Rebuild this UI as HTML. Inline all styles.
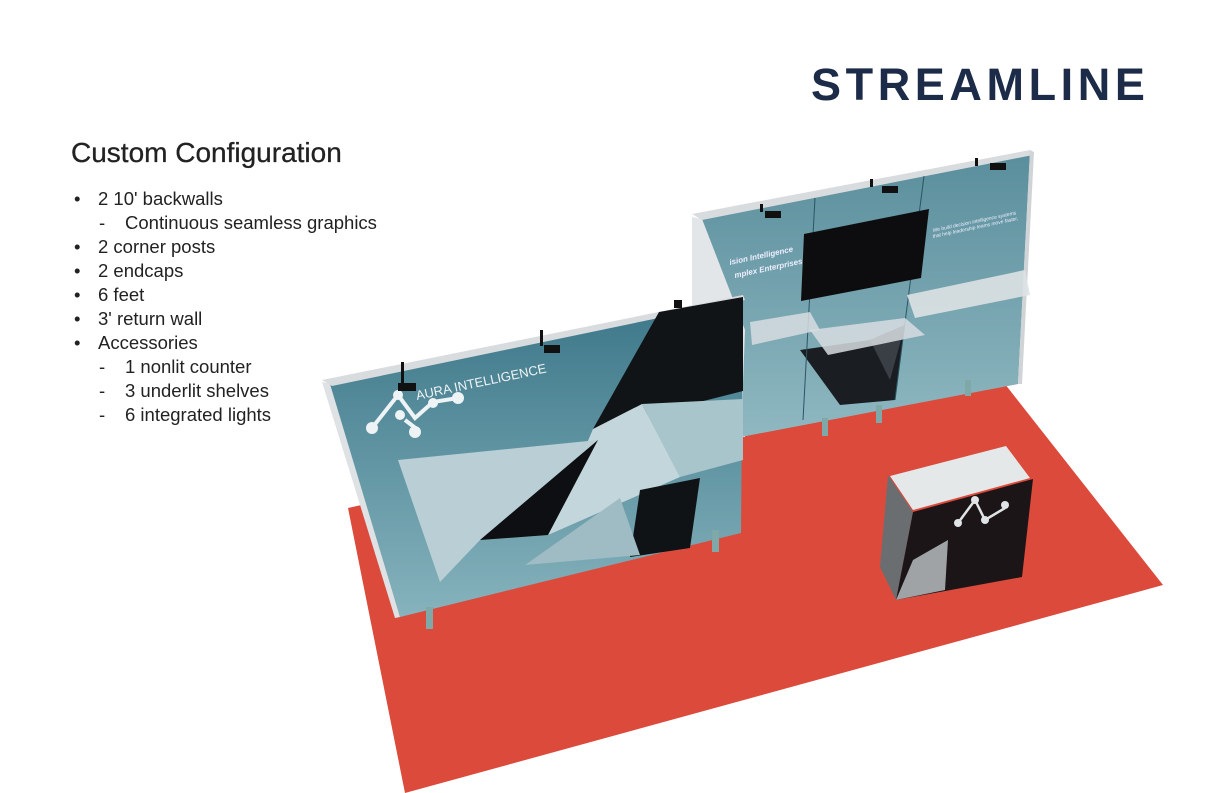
<!DOCTYPE html>
<html><head><meta charset="utf-8"><style>
html,body{margin:0;padding:0;background:#fff;}
body{width:1225px;height:793px;position:relative;overflow:hidden;font-family:"Liberation Sans",sans-serif;}
.brand{position:absolute;left:811px;top:59px;font-size:45px;font-weight:bold;color:#1c2b48;letter-spacing:4.6px;}
.title{position:absolute;left:71px;top:137px;font-size:28px;color:#222;-webkit-text-stroke:0.3px #222;}
.list{position:absolute;left:72px;top:187px;font-size:18.5px;color:#222;line-height:24px;}
.list div{position:relative;white-space:nowrap;}
.b{padding-left:26px;}
.b:before{content:"•";position:absolute;left:2px;}
.s{padding-left:53px;}
.s:before{content:"-";position:absolute;left:27px;}
svg{position:absolute;left:0;top:0;}
</style></head><body>
<svg width="1225" height="793" viewBox="0 0 1225 793">
<defs>
<linearGradient id="tg" x1="0" y1="0" x2="0" y2="1">
<stop offset="0" stop-color="#3b7688"/><stop offset="1" stop-color="#86b3bd"/></linearGradient>
<linearGradient id="tg2" x1="0" y1="0" x2="0" y2="1">
<stop offset="0" stop-color="#5a8e9c"/><stop offset="1" stop-color="#8fb8c1"/></linearGradient>
</defs>
<polygon points="348,508 990,365 1163,585 405,793" fill="#dc4a3b"/>
<polygon points="692,217 702,219 745,330 745,437 692,440" fill="#e3e6e8"/>
<polygon points="702,219 1030,153 1018,384 741,437 745,330" fill="url(#tg2)"/>
<polygon points="692,214 1030,150 1033,155 702,220" fill="#d9dcde"/>
<polygon points="1030,150 1034,152 1022,384 1018,384" fill="#d0d4d6"/>
<polygon points="800,350 870,340 905,325 895,400 840,405" fill="#1a1e22"/>
<polygon points="870,340 905,325 890,380" fill="#3a3f45"/>
<line x1="815" y1="198" x2="803" y2="420" stroke="#2b5563" stroke-width="1"/>
<line x1="924" y1="176" x2="895" y2="400" stroke="#2b5563" stroke-width="1"/>
<polygon points="804,234 929,209 921,278 801,301" fill="#0d0d0f"/>
<text x="730" y="265" font-size="8" fill="#eef" font-style="italic" font-weight="bold" transform="rotate(-12 730 265)">ision Intelligence</text>
<text x="735" y="278" font-size="8" fill="#eef" font-style="italic" font-weight="bold" transform="rotate(-12 735 278)">mplex Enterprises</text>
<text x="933" y="232" font-size="5" fill="#eef" font-style="italic" transform="rotate(-12 933 232)">We build decision intelligence systems</text>
<text x="933" y="238" font-size="5" fill="#eef" font-style="italic" transform="rotate(-12 933 238)">that help leadership teams move faster,</text>
<polygon points="750,322 810,312 820,330 752,345" fill="#d7dde0" opacity="0.85"/>
<polygon points="810,330 905,318 925,335 828,355" fill="#d7dde0" opacity="0.85"/>
<polygon points="907,295 1025,270 1030,295 915,318" fill="#dde2e4" opacity="0.9"/>
<rect x="822" y="418" width="6" height="18" fill="#7fa8a8"/>
<rect x="876" y="405" width="6" height="18" fill="#7fa8a8"/>
<rect x="965" y="380" width="6" height="16" fill="#7fa8a8"/>
<polygon points="322,382 332,384 400,617 395,618" fill="#dfe2e4"/>
<polygon points="330,384 743,297 741,533 400,617" fill="url(#tg)"/>
<polygon points="322,380 743,295 745,300 332,386" fill="#d9dcde"/>
<polygon points="659,312 743,297 743,391 593,429" fill="#111417"/>
<polygon points="642,404 743,399 743,460 680,477" fill="#a9c5cc"/>
<polygon points="593,429 642,404 680,477 548,535" fill="#c3d6db"/>
<polygon points="398,460 598,440 480,540 440,582" fill="#b9cfd5"/>
<polygon points="480,540 598,440 548,535" fill="#0d0f12"/>
<polygon points="640,490 700,478 690,548 630,557" fill="#101315"/>
<polygon points="525,565 620,498 640,555" fill="#9fbcc4"/>
<text x="417" y="400" font-size="13" fill="#eef3f5" transform="rotate(-12 417 400)">AURA INTELLIGENCE</text>
<g stroke="#eef3f5" stroke-width="4" fill="none">
<polyline points="372,428 398,395 415,418 433,402 458,398"/><polyline points="405,420 418,430"/>
</g>
<g fill="#eef3f5"><circle cx="372" cy="428" r="6"/><circle cx="398" cy="395" r="5"/><circle cx="415" cy="432" r="6"/><circle cx="458" cy="398" r="6"/><circle cx="400" cy="415" r="5"/><circle cx="433" cy="403" r="5"/></g>
<rect x="426" y="607" width="7" height="22" fill="#7fa8a8"/>
<rect x="712" y="530" width="7" height="22" fill="#7fa8a8"/>
<g fill="#111">
<rect x="398" y="383" width="18" height="8"/><rect x="401" y="362" width="3" height="22"/>
<rect x="544" y="345" width="16" height="8"/><rect x="540" y="330" width="3" height="16"/>
<rect x="674" y="300" width="8" height="8"/>
<rect x="765" y="211" width="16" height="7"/><rect x="760" y="204" width="3" height="8"/>
<rect x="882" y="186" width="16" height="7"/><rect x="870" y="179" width="3" height="8"/>
<rect x="990" y="163" width="16" height="7"/><rect x="975" y="158" width="3" height="8"/>
</g>
<polygon points="888,475 913,512 896,600 880,567" fill="#6b6e71"/>
<polygon points="913,512 1033,479 1022,577 896,600" fill="#1b1517"/>
<polygon points="896,600 945,590 948,540 913,560" fill="#9fa3a5"/>
<polygon points="890,476 1006,446 1030,478 913,510" fill="#e4e8e9"/>
<g stroke="#e0e4e6" stroke-width="2.5" fill="none"><polyline points="958,523 975,500 985,520 1005,508"/></g>
<g fill="#e0e4e6"><circle cx="958" cy="523" r="4"/><circle cx="975" cy="500" r="4"/><circle cx="985" cy="520" r="4"/><circle cx="1005" cy="505" r="4"/></g>
</svg>
<div class="brand">STREAMLINE</div>
<div class="title">Custom Configuration</div>
<div class="list">
<div class="b">2 10' backwalls</div>
<div class="s">Continuous seamless graphics</div>
<div class="b">2 corner posts</div>
<div class="b">2 endcaps</div>
<div class="b">6 feet</div>
<div class="b">3' return wall</div>
<div class="b">Accessories</div>
<div class="s">1 nonlit counter</div>
<div class="s">3 underlit shelves</div>
<div class="s">6 integrated lights</div>
</div>
</body></html>
